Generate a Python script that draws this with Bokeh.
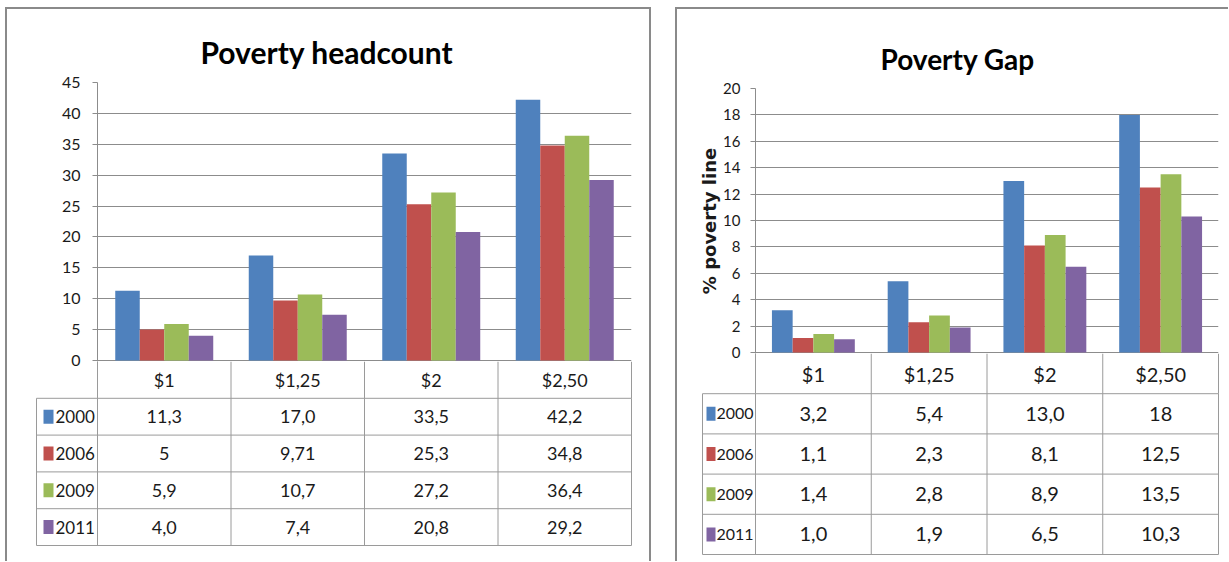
from bokeh.plotting import figure
from bokeh.layouts import row, column
from bokeh.models import Range1d, FixedTicker, ColumnDataSource
from bokeh.core.properties import value
from bokeh.embed import file_html
from bokeh.resources import INLINE

categories = ["$1", "$1,25", "$2", "$2,50"]
years = ["2000", "2006", "2009", "2011"]
colors = ["#4F81BD", "#C0504D", "#9BBB59", "#8064A2"]

headcount_2000 = [11.3, 17.0, 33.5, 42.2]
headcount_2006 = [5.0, 9.71, 25.3, 34.8]
headcount_2009 = [5.9, 10.7, 27.2, 36.4]
headcount_2011 = [4.0, 7.4, 20.8, 29.2]

headcount_text_2000 = ["11,3", "17,0", "33,5", "42,2"]
headcount_text_2006 = ["5", "9,71", "25,3", "34,8"]
headcount_text_2009 = ["5,9", "10,7", "27,2", "36,4"]
headcount_text_2011 = ["4,0", "7,4", "20,8", "29,2"]

gap_2000 = [3.2, 5.4, 13.0, 18.0]
gap_2006 = [1.1, 2.3, 8.1, 12.5]
gap_2009 = [1.4, 2.8, 8.9, 13.5]
gap_2011 = [1.0, 1.9, 6.5, 10.3]

gap_text_2000 = ["3,2", "5,4", "13,0", "18"]
gap_text_2006 = ["1,1", "2,3", "8,1", "12,5"]
gap_text_2009 = ["1,4", "2,8", "8,9", "13,5"]
gap_text_2011 = ["1,0", "1,9", "6,5", "10,3"]

headcount_ticks = [0, 5, 10, 15, 20, 25, 30, 35, 40, 45]
gap_ticks = [0, 2, 4, 6, 8, 10, 12, 14, 16, 18, 20]

FONT = "Lato"
GRID = "#8c8c8c"
TABLE_LINE = "#9a9a9a"
BORDER = "#8a8a8a"
TEXT = "#1a1a1a"
OVERLAP = 12


def make_panel(title, series, texts, ticks, ylabel, g):
    n = len(categories)
    ymax = ticks[-1]
    ppx = g["frame_w"] / n
    ppy = (g["frame_h"] - 1) / ymax
    right_border = g["fig_w"] - g["left"] - g["frame_w"]

    chart = figure(width=g["fig_w"], height=g["top"] + g["frame_h"] + OVERLAP,
                   x_range=Range1d(0, n), y_range=Range1d(-1 / ppy, ymax),
                   output_backend="svg", toolbar_location=None,
                   min_border_left=g["left"], min_border_right=right_border,
                   min_border_top=g["top"], min_border_bottom=OVERLAP,
                   x_axis_location=None, title=title, frame_align=False)
    chart.outline_line_color = None
    chart.title.text_font = FONT
    chart.title.text_font_size = g["title_size"]
    chart.title.text_font_style = "bold"
    chart.title.text_color = "#000000"
    chart.title.align = "left"
    chart.title.offset = g["title_off"]
    chart.title.standoff = g["title_standoff"]

    chart.xgrid.visible = False
    chart.ygrid.ticker = FixedTicker(ticks=ticks)
    chart.ygrid.grid_line_color = GRID
    chart.ygrid.grid_line_width = 1
    ax = chart.yaxis[0]
    ax.ticker = FixedTicker(ticks=ticks)
    ax.axis_line_color = GRID
    ax.major_tick_line_color = GRID
    ax.major_tick_in = 0
    ax.major_tick_out = 5
    ax.minor_tick_line_color = None
    ax.major_label_standoff = g["label_standoff"]
    ax.major_label_text_font = FONT
    ax.major_label_text_font_size = g["tick_size"]
    ax.major_label_text_color = TEXT
    if ylabel:
        ax.axis_label = ylabel
        ax.axis_label_text_font = "DejaVu Sans"
        ax.axis_label_text_font_style = "bold"
        ax.axis_label_text_font_size = "18px"
        ax.axis_label_text_color = TEXT
        ax.axis_label_standoff = 0

    bw = g["bar_w"]
    for k, (vals, col) in enumerate(zip(series, colors)):
        src = ColumnDataSource(dict(x=[i + 0.5 + (k - 1.5) * bw for i in range(n)], top=vals))
        chart.vbar(x="x", top="top", bottom=0, width=bw, source=src,
                   fill_color=col, line_color=None)

    pad = 2
    legw = g["leg_w"] / ppx
    nrows = len(years) + 1
    tab = figure(width=g["fig_w"], height=g["tab_h"],
                 x_range=Range1d(-(g["leg_w"] + pad) / ppx, n + pad / ppx),
                 y_range=Range1d(nrows + pad / g["row_h"], 0),
                 output_backend="svg", toolbar_location=None,
                 min_border_left=g["left"] - g["leg_w"] - pad,
                 min_border_right=right_border - pad,
                 min_border_top=0,
                 min_border_bottom=g["tab_h"] - int(round(nrows * g["row_h"])) - pad,
                 x_axis_location=None, y_axis_location=None, frame_align=False,
                 margin=(-OVERLAP, 0, 0, 0))
    tab.outline_line_color = None
    tab.grid.visible = False
    tab.border_fill_color = None
    tab.background_fill_color = None

    hy = list(range(1, nrows + 1))
    tab.segment(x0=[-legw] * len(hy), x1=[n] * len(hy), y0=hy, y1=hy,
                line_color=TABLE_LINE, line_width=1)
    vx = list(range(n + 1))
    tab.segment(x0=vx, x1=vx, y0=[0] * len(vx), y1=[1] * len(vx),
                line_color=TABLE_LINE, line_width=1)
    bx = [-legw] + vx
    tab.segment(x0=bx, x1=bx, y0=[1] * len(bx), y1=[nrows] * len(bx),
                line_color=TABLE_LINE, line_width=1)

    cx = [i + 0.5 for i in range(n)]
    tab.text(x=cx, y=[0.5] * n, text=categories, text_align="center",
             text_baseline="middle", text_font=value(FONT),
             text_font_size=g["table_size"], text_color=TEXT)
    for r, txt in enumerate(texts):
        tab.text(x=cx, y=[r + 1.5] * n, text=txt, text_align="center",
                 text_baseline="middle", text_font=value(FONT),
                 text_font_size=g["table_size"], text_color=TEXT)

    ry = [r + 1.5 for r in range(len(years))]
    tab.rect(x=[-legw + (g["sw_off"] + g["sw_w"] / 2) / ppx] * len(years), y=ry,
             width=g["sw_w"], height=g["sw_h"], width_units="screen",
             height_units="screen", fill_color=colors, line_color=None)
    tab.text(x=[-legw] * len(years), y=ry, x_offset=g["txt_off"], text=years,
             text_align="left", text_baseline="middle", text_font=value(FONT),
             text_font_size=g["year_size"], text_color=TEXT)
    return chart, tab


g_left = dict(fig_w=642, left=90, frame_w=534, top=73, frame_h=279, tab_h=200,
              row_h=36.8, leg_w=61, bar_w=0.1835, sw_off=7, sw_w=10, sw_h=14,
              txt_off=19, tick_size="16px", table_size="18px", year_size="17px",
              title_size="30px", title_off=103, title_standoff=25, label_standoff=12)
g_right = dict(fig_w=551, left=78, frame_w=463, top=79, frame_h=265, tab_h=208,
               row_h=40.2, leg_w=53, bar_w=0.179, sw_off=4, sw_w=9, sw_h=14,
               txt_off=14, tick_size="15px", table_size="20px", year_size="16px",
               title_size="28px", title_off=125, title_standoff=26, label_standoff=10)

c1, t1 = make_panel("Poverty headcount",
                    [headcount_2000, headcount_2006, headcount_2009, headcount_2011],
                    [headcount_text_2000, headcount_text_2006, headcount_text_2009, headcount_text_2011],
                    headcount_ticks, None, g_left)
c2, t2 = make_panel("Poverty Gap",
                    [gap_2000, gap_2006, gap_2009, gap_2011],
                    [gap_text_2000, gap_text_2006, gap_text_2009, gap_text_2011],
                    gap_ticks, "% poverty line", g_right)

left_panel = column(c1, t1, spacing=0,
                    styles={"border-left": f"2px solid {BORDER}",
                            "border-top": f"2px solid {BORDER}",
                            "border-right": f"2px solid {BORDER}"})
right_panel = column(c2, t2, spacing=0,
                     styles={"border-left": f"2px solid {BORDER}",
                             "border-top": f"2px solid {BORDER}"})
p = row(left_panel, right_panel, spacing=24, margin=(7, 0, 0, 5))

open("out.html", "w").write(file_html(p, INLINE))
